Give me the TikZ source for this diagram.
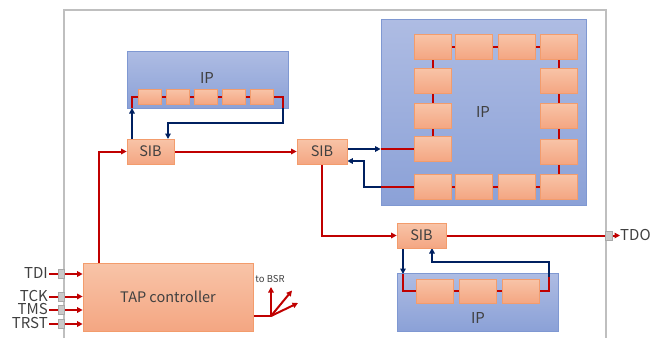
\documentclass[tikz,border=0pt]{standalone}
\usepackage{fontspec}
\setmainfont{Noto Sans CJK JP}
\usetikzlibrary{arrows.meta}
\definecolor{redw}{HTML}{C00000}
\definecolor{bluew}{HTML}{002060}
\definecolor{iptop}{HTML}{AEBCE3}
\definecolor{ipbot}{HTML}{8BA1D7}
\definecolor{ipborder}{HTML}{7F98D2}
\definecolor{celltop}{HTML}{F8C4A8}
\definecolor{cellbot}{HTML}{F4A682}
\definecolor{cellborder}{HTML}{F39C6C}
\definecolor{txt}{HTML}{404040}
\definecolor{framec}{HTML}{BFBFBF}
\definecolor{pinfill}{HTML}{C9C9C9}
\definecolor{pinborder}{HTML}{A8A8A8}
\pgfdeclarelayer{iplayer}
\pgfdeclarelayer{wires}
\pgfsetlayers{iplayer,wires,main}
\begin{document}
\begin{tikzpicture}[x=1pt,y=-1pt,
  ipbox/.style={rectangle, draw=ipborder, line width=0.8pt, top color=iptop, bottom color=ipbot, inner sep=0pt},
  cell/.style={rectangle, draw=cellborder, line width=0.7pt, top color=celltop, bottom color=cellbot, inner sep=0pt, text=txt},
  sibbox/.style={cell, minimum height=25pt, font=\fontsize{14.5}{15}\selectfont},
  lbl/.style={text=txt, inner sep=0pt, font=\fontsize{15}{16}\selectfont},
  pinlbl/.style={text=txt, inner sep=1pt, text height=9.5pt, text depth=0.5pt, font=\fontsize{15}{15}\selectfont},
  pin/.style={rectangle, fill=pinfill, draw=pinborder, line width=0.5pt, minimum width=6pt, minimum height=9pt, inner sep=0pt},
  rw/.style={draw=redw, line width=2pt},
  bw/.style={draw=bluew, line width=2pt},
  arr/.style={-{Triangle[length=5.5pt,width=5.5pt]}},
  framel/.style={draw=framec, line width=1.6pt}
]
\useasboundingbox (0,0) rectangle (662,338);

% frame
\coordinate (f1) at (64,338);
\coordinate (f2) at (64,10);
\coordinate (f3) at (606,10);
\coordinate (f4) at (606,338);
\begin{pgfonlayer}{iplayer}
\draw[framel] (f1) -- (f2) -- (f3) -- (f4);
% IP boxes
\node[ipbox, minimum width=161pt, minimum height=57pt] (ip1) at (207.5,79.5) {};
\node[ipbox, minimum width=205pt, minimum height=186pt] (ip2) at (483.5,112) {};
\node[ipbox, minimum width=161pt, minimum height=58pt] (ip3) at (477.5,302) {};
\end{pgfonlayer}

\node[lbl] (ip1t) at (207,78) {IP};
\node[lbl] (ip2t) at (483,112) {IP};
\node[lbl] (ip3t) at (478,318) {IP};

% IP1 cells
\foreach \n/\x in {1/149.5,2/177.5,3/205.5,4/233.5,5/261.5}
  \node[cell, minimum width=23pt, minimum height=15pt] (a\n) at (\x,96.5) {};

% IP2 cells
\foreach \n/\x in {1/432.5,2/474,3/516.5,4/558.5}{
  \node[cell, minimum width=37pt, minimum height=25pt] (t\n) at (\x,46.5) {};
  \node[cell, minimum width=37pt, minimum height=25pt] (b\n) at (\x,186.5) {};
}
\foreach \n/\y in {1/80.5,2/116,3/149}
  \node[cell, minimum width=37pt, minimum height=25pt] (l\n) at (432.5,\y) {};
\foreach \n/\y in {1/80.5,2/115.5,3/151.5}
  \node[cell, minimum width=37pt, minimum height=25pt] (r\n) at (558.5,\y) {};

% IP3 cells
\foreach \n/\x in {1/435,2/478,3/520.5}
  \node[cell, minimum width=37pt, minimum height=24pt] (c\n) at (\x,291) {};

% SIBs and TAP
\node[sibbox, minimum width=47pt] (sib1) at (150.5,151.5) {SIB};
\node[sibbox, minimum width=50pt] (sib2) at (322,151.5) {SIB};
\node[sibbox, minimum width=49pt] (sib3) at (421.5,235.5) {SIB};
\node[cell, minimum width=170pt, minimum height=68pt, font=\fontsize{14.5}{15}\selectfont] (tap) at (168,297) {TAP controller};

% pins and labels
\foreach \nm/\tx/\y in {tdi/TDI/274,tck/TCK/296.5,tms/TMS/310,trst/TRST/324}{
  \node[pinlbl, anchor=east] (\nm) at (49,\y) {\tx};
  \node[pin] (\nm p) at (61,\y) {};
  \begin{pgfonlayer}{wires}
  \draw[rw,arr] (\nm.east) -- (\nm.east -| tap.west);
  \end{pgfonlayer}
}
\node[pin, minimum width=7pt] (tdop) at (608.5,235.5) {};
\node[pinlbl, anchor=west, inner sep=0pt] (tdo) at (620,235.5) {TDO};
\node[text=txt, inner sep=0pt, font=\fontsize{9.5}{10}\selectfont] (bsrl) at (270,279) {to BSR};

% coordinates for wires
\coordinate (k1) at (132,97);
\coordinate (k2) at (132,108);
\coordinate (k3) at (132,139);
\coordinate (k4) at (283,97);
\coordinate (k5) at (283,108);
\coordinate (k6) at (283,123);
\coordinate (k7) at (168,123);
\coordinate (k8) at (168,139);
\coordinate (m1) at (99,151.5);
\coordinate (n1) at (364,186.5);
\coordinate (n2) at (364,161);
\coordinate (p1) at (322,235.5);
\coordinate (q1) at (403,248);
\coordinate (q2) at (403,274);
\coordinate (q3) at (403,291);
\coordinate (q4) at (549,291);
\coordinate (q5) at (549,277);
\coordinate (q6) at (549,262);
\coordinate (q7) at (432,262);
\coordinate (q8) at (432,248);
\coordinate (bsr) at (271,316);
\coordinate (bsr1) at (271,287);
\coordinate (bsr2) at (292,290.5);
\coordinate (bsr3) at (298,303);

\begin{pgfonlayer}{wires}
% main scan path
\draw[rw,arr] (tap.north -| m1) -- (m1) -- (sib1.west);
\draw[rw,arr] (sib1.east) -- (sib2.west);
% IP1 loop
\draw[bw,arr] (k3) -- (k2);
\draw[rw] (k2) -- (k1) -- (k4) -- (k5);
\draw[bw,arr] (k5) -- (k6) -- (k7) -- (k8);
% IP2 loop
\draw[bw,arr] (sib2.east |- l3) -- (ip2.west |- l3);
\draw[rw] (ip2.west |- l3) -- (l3.center) -- (l2.center) -- (l1.center) -- (t1.center) -- (t4.center)
  -- (r1.center) -- (r2.center) -- (r3.center) -- (b4.center) -- (b1.center) -- (ip2.west |- b1);
\draw[bw,arr] (ip2.west |- b1) -- (n1) -- (n2) -- (sib2.east |- n2);
% SIB2 -> SIB3 -> TDO
\draw[rw,arr] (sib2.south) -- (p1) -- (sib3.west);
\draw[rw] (sib3.east) -- (tdop.west);
\draw[rw,arr] (tdop.east) -- (tdo.west);
% IP3 loop
\draw[bw,arr] (q1) -- (q2);
\draw[rw] (q2) -- (q3) -- (q4) -- (q5);
\draw[bw,arr] (q5) -- (q6) -- (q7) -- (q8);
% TAP to BSR
\draw[rw] (tap.east |- bsr) -- (bsr);
\draw[rw,arr] (bsr) -- (bsr1);
\draw[rw,arr] (bsr) -- (bsr2);
\draw[rw,arr] (bsr) -- (bsr3);
\end{pgfonlayer}
\end{tikzpicture}
\end{document}
